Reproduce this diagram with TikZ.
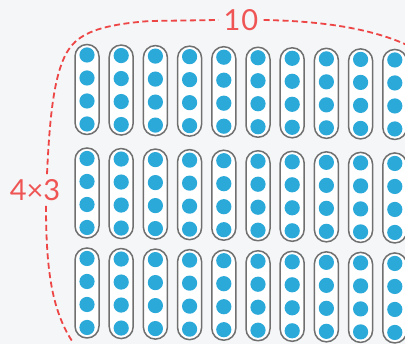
\documentclass[tikz,border=0pt]{standalone}
\usepackage{fontspec}
\setmainfont{Lato}
\definecolor{paper}{HTML}{F4F6F7}
\definecolor{dotblue}{HTML}{2BA9D9}
\definecolor{rimgray}{HTML}{707070}
\definecolor{bracketred}{HTML}{EE4646}
\definecolor{labelred}{HTML}{F05555}
\begin{document}
\begin{tikzpicture}[x=1pt,y=-1pt,
  capsule/.style={draw=rimgray, line width=1.5pt, fill=white, rounded corners=11.9pt},
  bead/.style={fill=dotblue},
  bracket/.style={draw=bracketred, line width=1.8pt, dash pattern=on 6pt off 3.5pt},
  lbl/.style={text=labelred, font=\fontsize{29}{31}\selectfont, inner sep=5pt}]
\fill[paper] (0,0) rectangle (405,344);
\useasboundingbox (0,0) rectangle (405,344);
\foreach \cy in {89.5,193,293}{
  \foreach \c in {0,...,9}{
    \pgfmathsetmacro\cx{87+34.2*\c}
    \pgfmathsetmacro\yy{\cy+0.55*\c}
    \draw[capsule] (\cx-12,\yy-45) rectangle (\cx+12,\yy+45);
    \foreach \k in {-34.5,-11.5,11.5,34.5}
      \fill[bead] (\cx,\yy+\k) circle (7.6pt);
  }
}
\node[lbl] (ten) at (241,20) {1\kern1pt 0};
\node[lbl] (fx) at (35,190) {4×3};
\coordinate (lt) at (47,0 |- fx.north);
\coordinate (lb) at (46,0 |- fx.south);
\coordinate (rend) at (407,45);
\coordinate (bend) at (72,341);
\draw[bracket] (lt) .. controls (50,110) and (55,60) .. (75,42)
  .. controls (88,30) and (110,24) .. (150,21) -- (ten.west);
\draw[bracket] (ten.east) .. controls (320,21) and (370,28) .. (rend);
\draw[bracket] (lb) .. controls (46,270) and (52,310) .. (bend);
\end{tikzpicture}
\end{document}
